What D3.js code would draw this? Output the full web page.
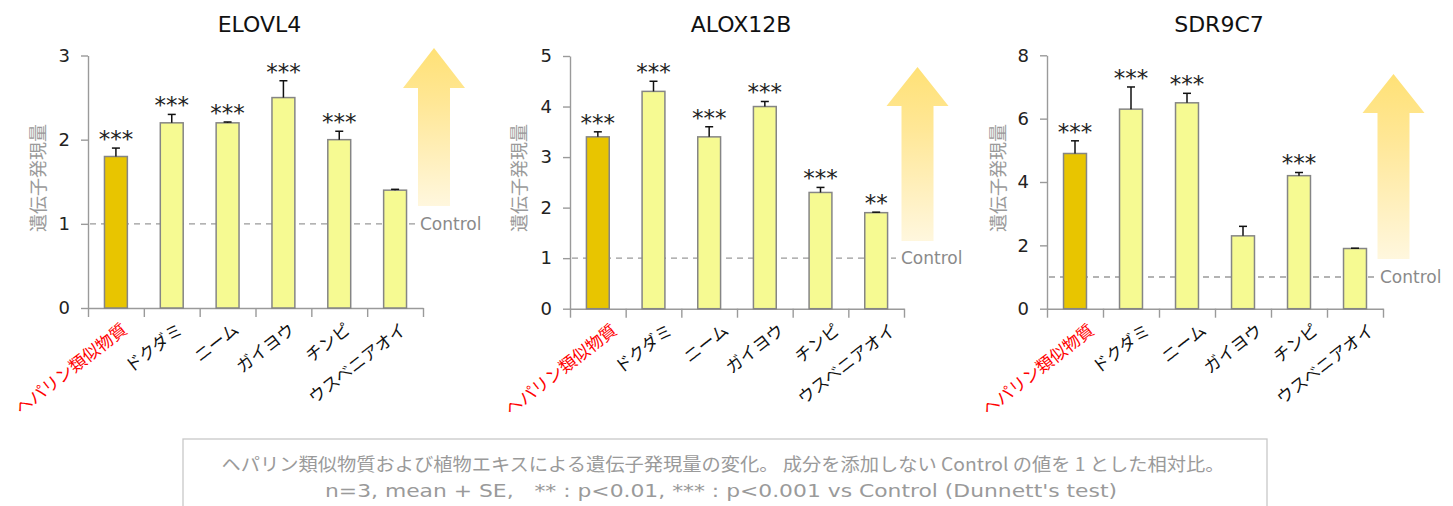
<!DOCTYPE html>
<html>
<head>
<meta charset="utf-8">
<script src="https://cdn.jsdelivr.net/npm/d3@7"></script>
<style>
  html, body { margin: 0; padding: 0; background: #fff; }
  svg { display: block; }
</style>
</head>
<body>
<svg id="chart" width="1453" height="506"></svg>
<script>
// ---------- DATA ----------
const categories = ["ヘパリン類似物質", "ドクダミ", "ニーム", "ガイヨウ", "チンピ", "ウスベニアオイ"];
const genes = ["ELOVL4", "ALOX12B", "SDR9C7"];

const elovl4Mean = [1.8, 2.2, 2.2, 2.5, 2.0, 1.4];
const elovl4SE   = [0.1, 0.1, 0.01, 0.2, 0.1, 0.01];
const elovl4Sig  = ["***", "***", "***", "***", "***", ""];

const alox12bMean = [3.4, 4.3, 3.4, 4.0, 2.3, 1.9];
const alox12bSE   = [0.1, 0.2, 0.2, 0.1, 0.1, 0.01];
const alox12bSig  = ["***", "***", "***", "***", "***", "**"];

const sdr9c7Mean = [4.9, 6.3, 6.5, 2.3, 4.2, 1.9];
const sdr9c7SE   = [0.4, 0.7, 0.3, 0.3, 0.1, 0.01];
const sdr9c7Sig  = ["***", "***", "***", "", "***", ""];

const elovl4Ticks  = [0, 1, 2, 3];
const alox12bTicks = [0, 1, 2, 3, 4, 5];
const sdr9c7Ticks  = [0, 2, 4, 6, 8];

const controlValue = 1;
const yAxisTitle = "遺伝子発現量";
const controlLabel = "Control";
const footnoteLine1 = "ヘパリン類似物質および植物エキスによる遺伝子発現量の変化。 成分を添加しない Control の値を 1 とした相対比。";
const footnoteLine2 = "n=3, mean + SE,   ** : p<0.01, *** : p<0.001 vs Control (Dunnett's test)";

// ---------- LAYOUT (positions/styles only) ----------
const panels = [
  { gene: genes[0], mean: elovl4Mean, se: elovl4SE, sig: elovl4Sig, ticks: elovl4Ticks,
    x0: 88, x1: 423, yTop: 55.5, yBot: 308, yTitleX: 37, labelOff: 4,
    arrow: { cx: 434, tip: 48, base: 88, bottom: 206 } },
  { gene: genes[1], mean: alox12bMean, se: alox12bSE, sig: alox12bSig, ticks: alox12bTicks,
    x0: 570, x1: 904, yTop: 56, yBot: 308.7, yTitleX: 518, labelOff: 12,
    arrow: { cx: 917.5, tip: 67, base: 106, bottom: 241 } },
  { gene: genes[2], mean: sdr9c7Mean, se: sdr9c7SE, sig: sdr9c7Sig, ticks: sdr9c7Ticks,
    x0: 1047, x1: 1383, yTop: 55.3, yBot: 308.7, yTitleX: 997, labelOff: 12,
    arrow: { cx: 1393.5, tip: 74, base: 113, bottom: 259 } }
];

const svg = d3.select("#chart");
const defs = svg.append("defs");
const grad = defs.append("linearGradient").attr("id", "arrowGrad")
  .attr("x1", 0).attr("y1", 0).attr("x2", 0).attr("y2", 1);
grad.append("stop").attr("offset", "0%").attr("stop-color", "#FFE176");
grad.append("stop").attr("offset", "35%").attr("stop-color", "#FFE796");
grad.append("stop").attr("offset", "100%").attr("stop-color", "#FFF7DE");

const latin = "'DejaVu Sans', Verdana, sans-serif";
const cjk = "'Noto Sans CJK JP', 'Noto Sans', sans-serif";
const axisColor = "#9a9a9a";

panels.forEach((p) => {
  const g = svg.append("g");
  const n = categories.length;
  const max = p.ticks[p.ticks.length - 1];
  const y = d3.scaleLinear().domain([0, max]).range([p.yBot, p.yTop]);
  const xs = d3.scaleBand().domain(categories).range([p.x0, p.x1]).padding(0);
  const xb = d3.scaleLinear().domain([0, n]).range([p.x0, p.x1]);
  const bw = xs.bandwidth() * 0.41;

  // arrow (decorative)
  const a = p.arrow, hh = 31, sh = 16;
  g.append("path")
    .attr("d", `M${a.cx},${a.tip} L${a.cx + hh},${a.base} L${a.cx + sh},${a.base} L${a.cx + sh},${a.bottom}
                L${a.cx - sh},${a.bottom} L${a.cx - sh},${a.base} L${a.cx - hh},${a.base} Z`)
    .attr("fill", "url(#arrowGrad)");

  // title
  g.append("text")
    .attr("x", (p.x0 + p.x1) / 2 + 4).attr("y", 32)
    .attr("text-anchor", "middle")
    .attr("font-family", latin).attr("font-size", 22).attr("fill", "#111")
    .text(p.gene);

  // y axis
  const yAxis = d3.axisLeft(y).tickValues(p.ticks).tickSize(7).tickSizeOuter(0).tickPadding(11)
    .tickFormat(d3.format("d"));
  const yg = g.append("g").attr("transform", `translate(${p.x0},0)`).call(yAxis);
  yg.select(".domain").attr("stroke", axisColor).attr("stroke-width", 1.4);
  yg.selectAll(".tick line").attr("stroke", axisColor).attr("stroke-width", 1.4);
  yg.selectAll(".tick text").attr("font-family", latin).attr("font-size", 18).attr("fill", "#222");

  // x axis
  const xAxis = d3.axisBottom(xb).tickValues(d3.range(n + 1)).tickSize(9).tickSizeOuter(0).tickFormat("");
  const xg = g.append("g").attr("transform", `translate(0,${p.yBot})`).call(xAxis);
  xg.select(".domain").attr("stroke", axisColor).attr("stroke-width", 1.4);
  xg.selectAll(".tick line").attr("stroke", axisColor).attr("stroke-width", 1.4);

  // control line
  g.append("line")
    .attr("x1", p.x0 + 2).attr("x2", p.x1 - 8)
    .attr("y1", y(controlValue)).attr("y2", y(controlValue))
    .attr("stroke", axisColor).attr("stroke-width", 1.4).attr("stroke-dasharray", "6,5");
  g.append("text")
    .attr("x", p.x1 - 3).attr("y", y(controlValue))
    .attr("dominant-baseline", "central")
    .attr("font-family", latin).attr("font-size", 17).attr("fill", "#8a8a8a")
    .text(controlLabel);

  // bars
  const data = categories.map((c, i) => ({ c, i, m: p.mean[i], se: p.se[i], sig: p.sig[i] }));
  g.selectAll("rect.bar").data(data).enter().append("rect")
    .attr("x", d => xs(d.c) + xs.bandwidth() / 2 - bw / 2)
    .attr("y", d => y(d.m))
    .attr("width", bw)
    .attr("height", d => y(0) - y(d.m))
    .attr("fill", d => d.i === 0 ? "#E8C500" : "#F6FA92")
    .attr("stroke", "#858585").attr("stroke-width", 1.5);

  // error bars
  const eb = g.selectAll("g.err").data(data).enter().append("g");
  eb.append("line")
    .attr("x1", d => xs(d.c) + xs.bandwidth() / 2).attr("x2", d => xs(d.c) + xs.bandwidth() / 2)
    .attr("y1", d => y(d.m)).attr("y2", d => y(d.m + d.se))
    .attr("stroke", "#111").attr("stroke-width", 1.5);
  eb.append("line")
    .attr("x1", d => xs(d.c) + xs.bandwidth() / 2 - 4).attr("x2", d => xs(d.c) + xs.bandwidth() / 2 + 4)
    .attr("y1", d => y(d.m + d.se)).attr("y2", d => y(d.m + d.se))
    .attr("stroke", "#111").attr("stroke-width", 1.5);

  // significance stars
  g.selectAll("text.sig").data(data.filter(d => d.sig)).enter().append("text")
    .attr("x", d => xs(d.c) + xs.bandwidth() / 2)
    .attr("y", d => y(d.m + d.se) - 1)
    .attr("text-anchor", "middle")
    .attr("font-family", latin).attr("font-size", 23).attr("fill", "#222")
    .text(d => d.sig);

  // category labels
  g.selectAll("text.cat").data(data).enter().append("text")
    .attr("transform", d => `translate(${xs(d.c) + xs.bandwidth() / 2 + p.labelOff},${p.yBot + 13}) rotate(-38)`)
    .attr("text-anchor", "end")
    .attr("dy", "0.8em")
    .attr("font-family", cjk).attr("font-size", 17)
    .attr("fill", d => d.i === 0 ? "#ff0000" : "#111")
    .text(d => d.c);

  // y title
  g.append("text")
    .attr("transform", `translate(${p.yTitleX},178) rotate(-90)`)
    .attr("text-anchor", "middle").attr("dominant-baseline", "central")
    .attr("font-family", cjk).attr("font-size", 18).attr("fill", "#9a9a9a")
    .text(yAxisTitle);
});

// footnote
svg.append("rect")
  .attr("x", 183).attr("y", 439).attr("width", 1084).attr("height", 90)
  .attr("fill", "none").attr("stroke", "#c8c8c8").attr("stroke-width", 1.3);
svg.append("text")
  .attr("x", 723).attr("y", 471).attr("text-anchor", "middle")
  .attr("font-family", cjk).attr("font-size", 18).attr("fill", "#9a9a9a")
  .attr("textLength", 1003).attr("lengthAdjust", "spacingAndGlyphs")
  .text(footnoteLine1);
svg.append("text")
  .attr("x", 721).attr("y", 497).attr("text-anchor", "middle")
  .attr("font-family", latin).attr("font-size", 18).attr("fill", "#9a9a9a")
  .attr("xml:space", "preserve").style("white-space", "pre")
  .attr("textLength", 792).attr("lengthAdjust", "spacingAndGlyphs")
  .text(footnoteLine2);
</script>
</body>
</html>
